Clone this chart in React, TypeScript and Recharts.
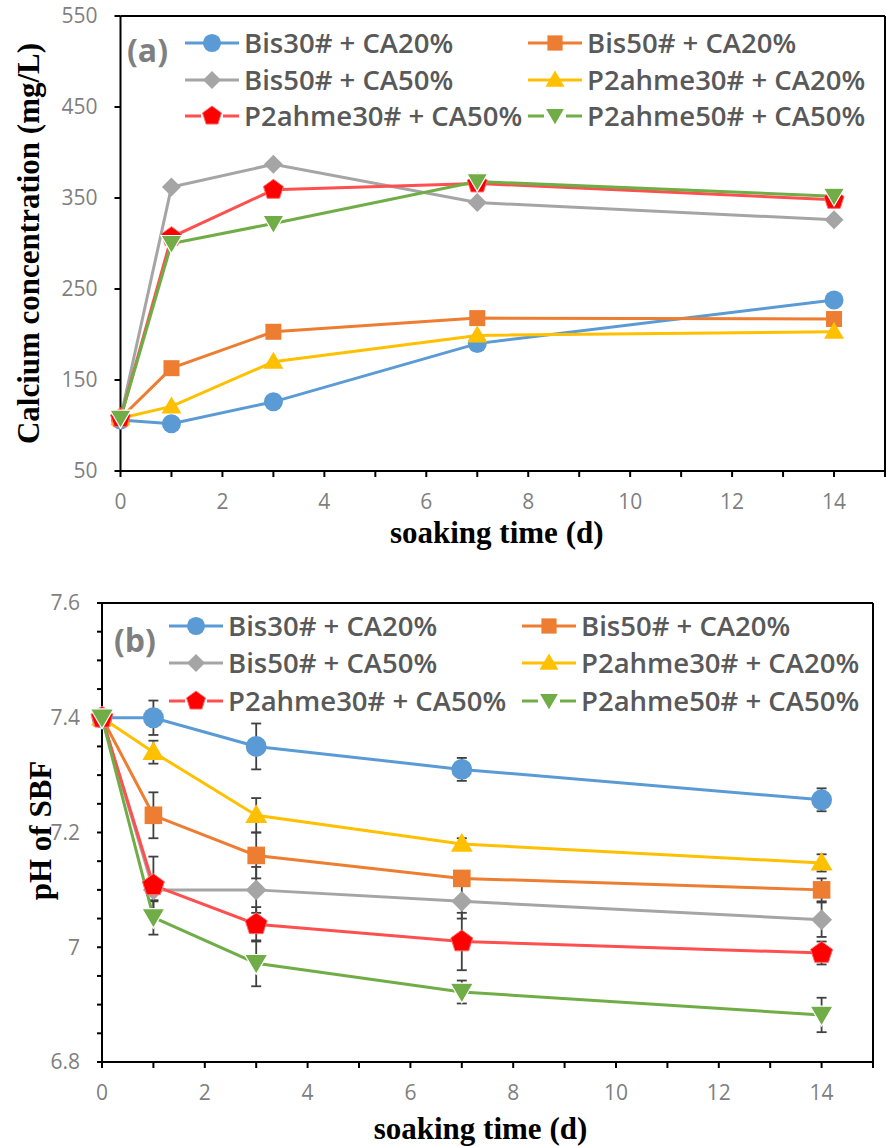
import React from 'react';
import { LineChart, Line, XAxis, YAxis, ErrorBar, ReferenceLine, Legend } from 'recharts';

// ---------- data ----------
const days = [0, 1, 3, 7, 14];

// (a) calcium concentration (mg/L)
const caBis30CA20 = [106, 102, 126, 190, 238];
const caBis50CA20 = [108, 163, 203, 218, 217];
const caBis50CA50 = [108, 362, 387, 345, 326];
const caP2ahme30CA20 = [108, 121, 170, 199, 203];
const caP2ahme30CA50 = [108, 307, 359, 366, 348];
const caP2ahme50CA50 = [108, 300, 322, 368, 352];

// (b) pH of SBF
const phBis30CA20 = [7.4, 7.4, 7.35, 7.31, 7.257];
const phBis50CA20 = [7.4, 7.23, 7.16, 7.12, 7.1];
const phBis50CA50 = [7.4, 7.1, 7.1, 7.08, 7.048];
const phP2ahme30CA20 = [7.4, 7.34, 7.23, 7.18, 7.147];
const phP2ahme30CA50 = [7.4, 7.108, 7.04, 7.01, 6.99];
const phP2ahme50CA50 = [7.4, 7.052, 6.972, 6.922, 6.882];

const errBis30CA20 = [0, 0.03, 0.04, 0.02, 0.02];
const errBis50CA20 = [0, 0.04, 0.04, 0.01, 0.02];
const errBis50CA50 = [0, 0.02, 0.04, 0.03, 0.03];
const errP2ahme30CA20 = [0, 0.02, 0.03, 0.01, 0.015];
const errP2ahme30CA50 = [0, 0.05, 0.03, 0.05, 0.02];
const errP2ahme50CA50 = [0, 0.03, 0.04, 0.02, 0.03];

const seriesNames = [
  'Bis30# + CA20%',
  'Bis50# + CA20%',
  'Bis50# + CA50%',
  'P2ahme30# + CA20%',
  'P2ahme30# + CA50%',
  'P2ahme50# + CA50%',
];

const xTicks = [0, 1, 2, 3, 4, 5, 6, 7, 8, 9, 10, 11, 12, 13, 14, 15];
const xTickLabels = ['0', '', '2', '', '4', '', '6', '', '8', '', '10', '', '12', '', '14', ''];
const caTicks = [50, 150, 250, 350, 450, 550];
const phTicks = [6.8, 6.85, 6.9, 6.95, 7.0, 7.05, 7.1, 7.15, 7.2, 7.25, 7.3, 7.35, 7.4, 7.45, 7.5, 7.55, 7.6];
const phTickLabels = ['6.8', '', '', '', '7', '', '', '', '7.2', '', '', '', '7.4', '', '', '', '7.6'];

// ---------- styling ----------
type Shape = 'circle' | 'square' | 'diamond' | 'triangle' | 'pentagon' | 'invtriangle';
const keys = ['s1', 's2', 's3', 's4', 's5', 's6'];
const lineColors = ['#5B9BD5', '#ED7D31', '#A5A5A5', '#FFC000', '#FF4F4F', '#70AD47'];
const markColors = ['#5B9BD5', '#ED7D31', '#A5A5A5', '#FFC000', '#FF0000', '#70AD47'];
const shapes: Shape[] = ['circle', 'square', 'diamond', 'triangle', 'pentagon', 'invtriangle'];

const caSeries = [caBis30CA20, caBis50CA20, caBis50CA50, caP2ahme30CA20, caP2ahme30CA50, caP2ahme50CA50];
const phSeries = [phBis30CA20, phBis50CA20, phBis50CA50, phP2ahme30CA20, phP2ahme30CA50, phP2ahme50CA50];
const phErrs = [errBis30CA20, errBis50CA20, errBis50CA50, errP2ahme30CA20, errP2ahme30CA50, errP2ahme50CA50];

const caData = days.map((d, i) => {
  const row: any = { day: d };
  keys.forEach((k, j) => (row[k] = caSeries[j][i]));
  return row;
});
const phData = days.map((d, i) => {
  const row: any = { day: d };
  keys.forEach((k, j) => {
    row[k] = phSeries[j][i];
    row[k + 'e'] = phErrs[j][i];
  });
  return row;
});

function Marker({ shape, cx, cy, color, s = 1 }: { shape: Shape; cx: number; cy: number; color: string; s?: number }) {
  switch (shape) {
    case 'circle':
      return <circle cx={cx} cy={cy} r={9.5 * s} fill={color} />;
    case 'square':
      return <rect x={cx - 8 * s} y={cy - 8 * s} width={16 * s} height={16 * s} fill={color} />;
    case 'diamond': {
      const r = 9.5 * s;
      return <polygon points={`${cx},${cy - r} ${cx + r},${cy} ${cx},${cy + r} ${cx - r},${cy}`} fill={color} />;
    }
    case 'triangle': {
      const w = 10 * s;
      return <polygon points={`${cx},${cy - 10 * s} ${cx + w},${cy + 7 * s} ${cx - w},${cy + 7 * s}`} fill={color} />;
    }
    case 'invtriangle': {
      const w = 10.5 * s;
      return (
        <polygon
          points={`${cx - w},${cy - 8 * s} ${cx + w},${cy - 8 * s} ${cx},${cy + 10 * s}`}
          fill={color}
          stroke="#ffffff"
          strokeWidth={1.2}
        />
      );
    }
    case 'pentagon': {
      const r = 10.5 * s;
      const pts = [0, 1, 2, 3, 4]
        .map((i) => {
          const a = -Math.PI / 2 + (i * 2 * Math.PI) / 5;
          return `${cx + r * Math.cos(a)},${cy + r * Math.sin(a)}`;
        })
        .join(' ');
      return <polygon points={pts} fill={color} stroke="#ff6b6b" strokeWidth={1} />;
    }
  }
  return null;
}

const makeDot = (j: number, s: number) => (p: any) => {
  if (p == null || p.cx == null || p.cy == null) return <g key={`d${j}-${p?.index}`} />;
  return (
    <g key={`d${j}-${p.index}`}>
      <Marker shape={shapes[j]} cx={p.cx} cy={p.cy} color={markColors[j]} s={s} />
    </g>
  );
};

const tickStyle = { fill: '#7f7f7f', fontSize: 21, fontFamily: "'Open Sans', sans-serif" };
const titleFont = "'Liberation Serif', 'Times New Roman', serif";

function LegendBlock({ tag, tagX, tagY, colX, rows }: { tag: string; tagX: number; tagY: number; colX: number[]; rows: number[] }) {
  return (
    <div style={{ position: 'relative', width: 886, height: 200 }}>
      <div
        style={{
          position: 'absolute',
          left: tagX,
          top: tagY - 22,
          height: 44,
          lineHeight: '44px',
          fontFamily: "'Open Sans', sans-serif",
          fontWeight: 700,
          fontSize: 32,
          color: '#7f7f7f',
        }}
      >
        {tag}
      </div>
      {seriesNames.map((name, j) => {
        const col = j % 2;
        const row = Math.floor(j / 2);
        return (
          <div
            key={name}
            style={{
              position: 'absolute',
              left: colX[col],
              top: rows[row] - 18,
              height: 36,
              display: 'flex',
              alignItems: 'center',
              whiteSpace: 'nowrap',
            }}
          >
            <svg width={59} height={36} style={{ display: 'block' }}>
              <line x1={0} y1={18} x2={54} y2={18} stroke={lineColors[j]} strokeWidth={3} />
              {shapes[j] === 'pentagon' || shapes[j] === 'invtriangle' ? (
                <rect x={16} y={8} width={22} height={20} fill="#fff" />
              ) : null}
              <Marker shape={shapes[j]} cx={27} cy={18} color={markColors[j]} s={0.95} />
            </svg>
            <span
              style={{
                fontFamily: "'Open Sans', sans-serif",
                fontWeight: 600,
                fontSize: 27.5,
                color: '#595959',
                lineHeight: '36px',
              }}
            >
              {name}
            </span>
          </div>
        );
      })}
    </div>
  );
}

export default function App() {
  return (
    <div style={{ position: 'absolute', left: 0, top: 0, width: 886, height: 1146, background: '#fff' }}>
      {/* (a) */}
      <div style={{ position: 'absolute', left: 0, top: 0 }}>
        <LineChart width={886} height={560} data={caData} margin={{ top: 16, right: 1, bottom: 0, left: 0 }}>
          <XAxis
            type="number"
            dataKey="day"
            domain={[0, 15]}
            ticks={xTicks}
            interval={0}
            height={89}
            tickSize={6}
            tickMargin={17}
            tickFormatter={(v: number) => xTickLabels[xTicks.indexOf(v)] ?? ''}
            axisLine={{ stroke: '#000', strokeWidth: 2 }}
            tickLine={{ stroke: '#000', strokeWidth: 2 }}
            tick={tickStyle}
            label={{
              content: (p: any) => {
                const vb = p.viewBox || {};
                return (
                  <text
                    x={vb.x + vb.width / 2 - 6}
                    y={vb.y + vb.height - 17}
                    textAnchor="middle"
                    fontFamily={titleFont}
                    fontWeight={700}
                    fontSize={31}
                    fill="#000"
                  >
                    soaking time (d)
                  </text>
                );
              },
            }}
          />
          <YAxis
            type="number"
            domain={[50, 550]}
            ticks={caTicks}
            interval={0}
            width={120.5}
            tickSize={6}
            tickMargin={17}
            axisLine={{ stroke: '#000', strokeWidth: 2 }}
            tickLine={{ stroke: '#000', strokeWidth: 2 }}
            tick={tickStyle}
            label={{
              content: (p: any) => {
                const vb = p.viewBox || {};
                const cy = vb.y + vb.height / 2;
                return (
                  <text
                    x={28}
                    y={cy}
                    transform={`rotate(-90, 28, ${cy})`}
                    textAnchor="middle"
                    dominantBaseline="central"
                    fontFamily={titleFont}
                    fontWeight={700}
                    fontSize={31}
                    fill="#000"
                  >
                    Calcium concentration (mg/L)
                  </text>
                );
              },
            }}
          />
          <ReferenceLine y={550} stroke="#000" strokeWidth={2} />
          <ReferenceLine x={15} stroke="#000" strokeWidth={2} />
          <Legend
            layout="vertical"
            align="center"
            verticalAlign="middle"
            wrapperStyle={{ position: 'absolute', left: 0, top: 0, width: 886, height: 200, margin: 0, padding: 0 }}
            content={() => <LegendBlock tag="(a)" tagX={127} tagY={50} colX={[185, 528]} rows={[43, 80, 116]} />}
          />
          {keys.map((k, j) => (
            <Line
              key={k}
              dataKey={k}
              name={seriesNames[j]}
              type="linear"
              stroke={lineColors[j]}
              strokeWidth={3}
              dot={makeDot(j, 1)}
              activeDot={false}
              isAnimationActive={false}
            />
          ))}
        </LineChart>
      </div>

      {/* (b) */}
      <div style={{ position: 'absolute', left: 0, top: 560 }}>
        <LineChart width={886} height={586} data={phData} margin={{ top: 43, right: 13, bottom: 0, left: 0 }}>
          <XAxis
            type="number"
            dataKey="day"
            domain={[0, 15]}
            ticks={xTicks}
            interval={0}
            height={84}
            tickSize={6}
            tickMargin={17}
            tickFormatter={(v: number) => xTickLabels[xTicks.indexOf(v)] ?? ''}
            axisLine={{ stroke: '#000', strokeWidth: 2 }}
            tickLine={{ stroke: '#000', strokeWidth: 2 }}
            tick={tickStyle}
            label={{
              content: (p: any) => {
                const vb = p.viewBox || {};
                return (
                  <text
                    x={vb.x + vb.width / 2 - 7}
                    y={vb.y + vb.height - 7}
                    textAnchor="middle"
                    fontFamily={titleFont}
                    fontWeight={700}
                    fontSize={31}
                    fill="#000"
                  >
                    soaking time (d)
                  </text>
                );
              },
            }}
          />
          <YAxis
            type="number"
            domain={[6.8, 7.6]}
            ticks={phTicks}
            interval={0}
            width={102}
            tickSize={5}
            tickMargin={17}
            tickFormatter={(v: number) => {
              const idx = phTicks.findIndex((t) => Math.abs(t - v) < 1e-6);
              return idx >= 0 ? phTickLabels[idx] : '';
            }}
            axisLine={{ stroke: '#000', strokeWidth: 2 }}
            tickLine={{ stroke: '#000', strokeWidth: 2 }}
            tick={tickStyle}
            label={{
              content: (p: any) => {
                const vb = p.viewBox || {};
                const cy = vb.y + vb.height / 2 - 2;
                return (
                  <text
                    x={40}
                    y={cy}
                    transform={`rotate(-90, 40, ${cy})`}
                    textAnchor="middle"
                    dominantBaseline="central"
                    fontFamily={titleFont}
                    fontWeight={700}
                    fontSize={31}
                    fill="#000"
                  >
                    pH of SBF
                  </text>
                );
              },
            }}
          />
          <ReferenceLine y={7.6} stroke="#000" strokeWidth={2} />
          <ReferenceLine x={15} stroke="#000" strokeWidth={2} />
          <Legend
            layout="vertical"
            align="center"
            verticalAlign="middle"
            wrapperStyle={{ position: 'absolute', left: 0, top: 0, width: 886, height: 200, margin: 0, padding: 0 }}
            content={() => <LegendBlock tag="(b)" tagX={114} tagY={80} colX={[169, 522]} rows={[66, 103, 141]} />}
          />
          {keys.map((k, j) => (
            <Line
              key={k}
              dataKey={k}
              name={seriesNames[j]}
              type="linear"
              stroke={lineColors[j]}
              strokeWidth={3}
              dot={makeDot(j, 1.1)}
              activeDot={false}
              isAnimationActive={false}
            >
              <ErrorBar dataKey={k + 'e'} direction="y" width={5} stroke="#404040" strokeWidth={1.8} />
            </Line>
          ))}
        </LineChart>
      </div>
    </div>
  );
}
